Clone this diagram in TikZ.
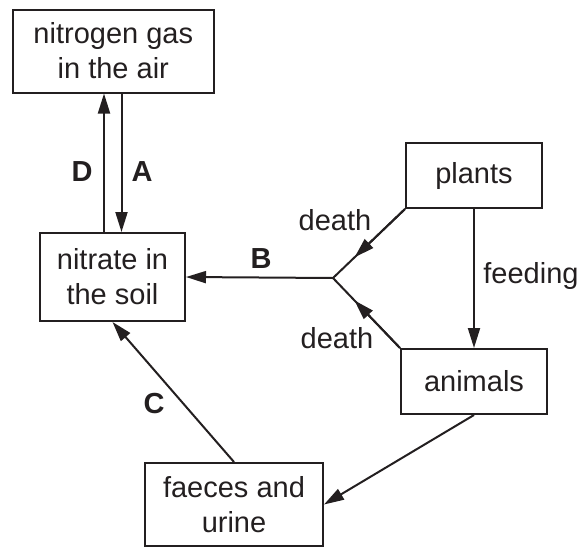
\documentclass[tikz,border=0pt]{standalone}
\usepackage{fontspec}
\setmainfont{Liberation Sans}
\usetikzlibrary{arrows.meta,calc}
\definecolor{ink}{HTML}{231F20}
\tikzset{
  box/.style={draw=ink, text=ink, line width=2pt, inner sep=0pt, align=center, font=\fontsize{29}{35}\selectfont},
  conn/.style={draw=ink, line width=2pt},
  arr/.style={conn, -{Triangle[length=20pt,width=12pt]}},
  lbl/.style={text=ink, font=\fontsize{29}{35}\selectfont, inner sep=0pt},
  blbl/.style={text=ink, font=\fontsize{29}{35}\selectfont\bfseries, inner sep=0pt},
}
\begin{document}
\begin{tikzpicture}[x=1pt,y=-1pt]
\useasboundingbox (0,0) rectangle (581,549);
\node[box, minimum width=201pt, minimum height=83pt] (nitrogen) at (113.3,51) {nitrogen gas\\in the air};
\node[box, minimum width=145pt, minimum height=88pt] (nitrate) at (112.5,277) {nitrate in\\the soil};
\node[box, minimum width=136pt, minimum height=65pt] (plants) at (474,175.5) {plants};
\node[box, minimum width=146pt, minimum height=65pt] (animals) at (474,381.5) {animals};
\node[box, minimum width=178pt, minimum height=83pt] (faeces) at (234,504.5) {faeces and\\urine};
\coordinate (j) at (333,278);

\draw[arr] ([xshift=-8.5pt]nitrate.north) -- ([xshift=-8.5pt]nitrate.north |- nitrogen.south);
\draw[arr] ([xshift=9pt]nitrate.north |- nitrogen.south) -- ([xshift=9pt]nitrate.north);
\draw[arr] (j) -- (nitrate.east);
\draw[conn] (plants.south west) -- (j);
\draw[arr] (plants.south west) -- ($(plants.south west)!0.7!(j)$);
\draw[conn] (animals.north west) -- (j);
\draw[arr] (animals.north west) -- ($(animals.north west)!0.68!(j)$);
\draw[arr] (plants.south) -- (animals.north);
\draw[arr] (animals.south) -- (faeces.east);
\draw[arr] (faeces.north) -- (nitrate.south);

\node[blbl] (D) at (82,172) {D};
\node[blbl] (A) at (142,172) {A};
\node[blbl] (B) at (261,259) {B};
\node[blbl] (C) at (154,404) {C};
\node[lbl] (d1) at (335,220) {death};
\node[lbl] (d2) at (337,338) {death};
\node[lbl] (feed) at (531,276) {feeding};
\end{tikzpicture}
\end{document}
